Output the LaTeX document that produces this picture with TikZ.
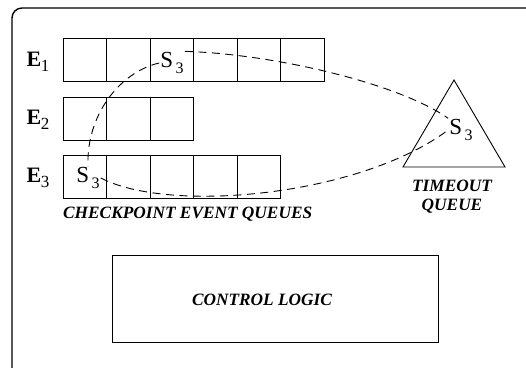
\documentclass[tikz,border=0pt]{standalone}
\usepackage{fontspec}
\setmainfont{Liberation Serif}
\newcommand\Sthree{{\fontsize{23}{23}\selectfont S}\hspace{2.5pt}\raisebox{-5.5pt}{\fontsize{16}{16}\selectfont 3}}
\newcommand\Elab[1]{{\fontsize{22}{22}\selectfont\bfseries E}\kern-0.5pt\raisebox{-5pt}{\fontsize{17}{17}\selectfont #1}}
\begin{document}
\begin{tikzpicture}[x=1pt,y=-1pt,
  cell/.style={draw, line width=0.9pt, minimum width=43.5pt, minimum height=43pt, inner sep=0pt, outer sep=0pt, anchor=north west},
  lab/.style={font=\fontsize{17.3}{19}\selectfont\bfseries\itshape},
  curve/.style={dash pattern=on 8pt off 5.5pt, line width=0.9pt},
  sym/.style={inner sep=1pt}
]
\useasboundingbox (0,0) rectangle (526,367);
\clip (0,0) rectangle (526,367);
% outer frame
\draw[line width=1.4pt, rounded corners=10pt] (12,400) -- (12,8) -- (560,8);
% queues
\foreach \i in {1,...,6} \node[cell] (a\i) at ({63+43.5*(\i-1)},38) {};
\foreach \i in {1,...,3} \node[cell] (b\i) at ({63+43.5*(\i-1)},97) {};
\foreach \i in {1,...,5} \node[cell] (c\i) at ({63+43.5*(\i-1)},155) {};
% row labels
\node (e1) at (38,62) {\Elab{1}};
\node (e2) at (38,120) {\Elab{2}};
\node (e3) at (38,178) {\Elab{3}};
% S3 entries
\node[sym] (s1) at (172,63) {\Sthree};
\node[sym] (s3) at (88,178) {\Sthree};
% timeout queue
\coordinate (tA) at (454,80);
\coordinate (tB) at (403,167);
\coordinate (tC) at (505,167);
\draw[line width=0.9pt] (tA) -- (tB) -- (tC) -- cycle;
\node[sym] (t3) at (461,130) {\Sthree};
\node[lab] (tl1) at (452,186) {TIMEOUT};
\node[lab] (tl2) at (452,206) {QUEUE};
\node[lab, anchor=west, inner sep=0pt] (cq) at (63,214) {CHECKPOINT EVENT QUEUES};
% control logic
\node[draw, line width=0.9pt, minimum width=326pt, minimum height=87pt, inner sep=0pt] (cl) at (275,299) {};
\node[lab] (clt) at (262,300) {CONTROL LOGIC};
% dashed links
\draw[curve] (s1.west) .. controls (120,72) and (86,115) .. (s3.north);
\draw[curve] (s1.north east) .. controls (275,54) and (400,84) .. (t3.north west);
\draw[curve] (s3.east) .. controls (170,214) and (360,196) .. (t3.west);
\end{tikzpicture}
\end{document}
